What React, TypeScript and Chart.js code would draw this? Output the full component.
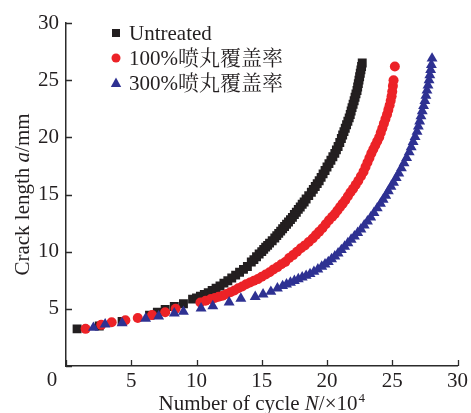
import React, { useEffect, useRef } from 'react';
import { Chart, registerables } from 'chart.js';

Chart.register(...registerables);

// Crack length a (mm) against number of cycles N (×10^4)
const untreatedN = [
  0.85, 2.55, 4.3, 6.4, 7.0, 7.6, 8.3, 9.0, 9.7, 10.0, 10.3, 10.6, 10.9, 11.2, 11.5, 11.8, 12.1, 12.4, 12.7, 13.0, 13.3, 13.6, 13.9,
  14.2, 14.4, 14.6, 14.8, 15.0, 15.15, 15.3, 15.45, 15.6, 15.8, 16.0, 16.15, 16.3, 16.45, 16.6, 16.75, 16.9, 17.05, 17.2, 17.35,
  17.5, 17.65, 17.8, 17.95, 18.1, 18.25, 18.4, 18.6, 18.8, 18.95, 19.1, 19.25, 19.4, 19.55, 19.7, 19.85, 20.0, 20.15, 20.3, 20.45,
  20.6, 20.72, 20.85, 20.98, 21.1, 21.2, 21.3, 21.4, 21.5, 21.6, 21.7, 21.78, 21.85, 21.92, 22.0, 22.08, 22.15, 22.22, 22.3, 22.35,
  22.4, 22.45, 22.5, 22.55, 22.6, 22.65, 22.7,
];
const untreatedA = [
  3.25, 3.5, 3.9, 4.45, 4.7, 4.95, 5.2, 5.45, 5.85, 5.95, 6.1, 6.25, 6.4, 6.6, 6.8, 7.0, 7.25, 7.45, 7.7, 7.95, 8.2, 8.45, 8.7,
  9.1, 9.3, 9.55, 9.8, 10.0, 10.2, 10.4, 10.55, 10.75, 10.95, 11.2, 11.4, 11.6, 11.8, 12.0, 12.2, 12.4, 12.6, 12.8, 13.0,
  13.25, 13.45, 13.7, 13.9, 14.15, 14.35, 14.6, 14.9, 15.2, 15.45, 15.7, 15.95, 16.2, 16.5, 16.8, 17.1, 17.4, 17.7, 18.0, 18.3,
  18.6, 18.9, 19.2, 19.55, 19.9, 20.2, 20.5, 20.8, 21.1, 21.4, 21.7, 22.0, 22.3, 22.6, 22.9, 23.2, 23.5, 23.8, 24.1, 24.4,
  24.7, 25.0, 25.3, 25.6, 25.9, 26.2, 26.5,
];

const peen100N = [
  1.5, 2.7, 3.5, 4.55, 5.5, 6.6, 7.6, 8.4,
  10.3, 10.7, 11.1, 11.4, 11.7, 12.0, 12.3, 12.6, 12.9, 13.2, 13.5, 13.8, 14.1, 14.4, 14.7, 15.0, 15.3, 15.6, 15.9, 16.2, 16.5,
  16.8, 17.1, 17.4, 17.7, 18.0, 18.3, 18.6, 18.9, 19.15, 19.4, 19.65, 19.9, 20.15, 20.4, 20.6, 20.8, 21.0, 21.2, 21.4, 21.6, 21.8,
  22.0, 22.2, 22.4, 22.6, 22.8, 22.95, 23.1, 23.25, 23.4, 23.55, 23.7, 23.85, 24.0, 24.12, 24.24, 24.36, 24.48, 24.6, 24.7, 24.8,
  24.88, 24.95, 25.0, 25.05, 25.1, 25.2,
];
const peen100A = [
  3.25, 3.6, 3.83, 4.0, 4.2, 4.45, 4.7, 5.0,
  5.55, 5.7, 5.85, 5.95, 6.05, 6.15, 6.3, 6.45, 6.6, 6.8, 6.95, 7.15, 7.3, 7.45, 7.6, 7.8, 8.0, 8.2, 8.45, 8.65, 8.9,
  9.1, 9.45, 9.7, 10.0, 10.3, 10.55, 10.85, 11.15, 11.45, 11.75, 12.05, 12.4, 12.75, 13.05, 13.3, 13.6, 13.9, 14.2, 14.5, 14.85, 15.2,
  15.5, 15.85, 16.2, 16.6, 17.0, 17.4, 17.8, 18.2, 18.6, 18.95, 19.3, 19.65, 20.0, 20.4, 20.8, 21.2, 21.6, 22.0, 22.4, 22.8,
  23.2, 23.6, 24.0, 24.5, 25.0, 26.2,
];

const peen300N = [
  2.1, 3.0, 4.3, 6.1, 7.1, 8.3, 9.0, 10.35, 11.25, 12.5, 13.4, 14.5, 15.1, 15.7, 16.2,
  16.6, 16.9, 17.2, 17.5, 17.8, 18.1, 18.4, 18.7, 19.0, 19.3, 19.6, 19.85, 20.1, 20.35, 20.6, 20.85, 21.1, 21.35, 21.6, 21.85,
  22.1, 22.35, 22.6, 22.85, 23.1, 23.35, 23.6, 23.85, 24.1, 24.3, 24.5, 24.7, 24.9, 25.1, 25.3, 25.5, 25.7, 25.9, 26.1, 26.3,
  26.45, 26.6, 26.75, 26.9, 27.0, 27.1, 27.2, 27.3, 27.4, 27.5, 27.58, 27.66, 27.74, 27.82, 27.88, 27.94, 28.0, 28.05,
];
const peen300A = [
  3.35, 3.65, 3.75, 4.15, 4.35, 4.6, 4.75, 5.05, 5.25, 5.57, 5.9, 6.05, 6.27, 6.5, 6.8,
  7.0, 7.15, 7.3, 7.45, 7.6, 7.75, 7.9, 8.05, 8.25, 8.45, 8.7, 8.9, 9.1, 9.35, 9.6, 9.85, 10.15, 10.45, 10.75, 11.05,
  11.35, 11.65, 11.95, 12.3, 12.65, 13.0, 13.4, 13.8, 14.2, 14.55, 14.9, 15.3, 15.7, 16.05, 16.45, 16.85, 17.3, 17.75, 18.2, 18.7,
  19.15, 19.6, 20.05, 20.5, 20.95, 21.4, 21.85, 22.3, 22.75, 23.2, 23.65, 24.1, 24.55, 25.0, 25.45, 25.9, 26.35, 26.9,
];

const seriesLabels = ['Untreated', '100%喷丸覆盖率', '300%喷丸覆盖率'];
const xTickValues = [0, 5, 10, 15, 20, 25, 30];
const yTickValues = [0, 5, 10, 15, 20, 25, 30];

const BLACK = '#231F20';
const RED = '#EC2227';
const BLUE = '#2E3192';
const AXIS = '#2b2b2b';
const SERIF = "'Liberation Serif', 'Times New Roman', 'Noto Serif CJK SC', 'Noto Sans CJK SC', serif";
const FONT_SIZE = 21;

const toPoints = (xs: number[], ys: number[]) => xs.map((x, i) => ({ x, y: ys[i] }));

type Seg = { t: string; italic?: boolean; sup?: boolean };

function drawRich(ctx: CanvasRenderingContext2D, segs: Seg[], cx: number, baseline: number) {
  const fontFor = (s: Seg) =>
    `${s.italic ? 'italic ' : ''}${s.sup ? Math.round(FONT_SIZE * 0.62) : FONT_SIZE}px ${SERIF}`;
  let total = 0;
  for (const s of segs) {
    ctx.font = fontFor(s);
    total += ctx.measureText(s.t).width + (s.sup ? 1 : 0);
  }
  let x = cx - total / 2;
  ctx.textAlign = 'left';
  ctx.textBaseline = 'alphabetic';
  for (const s of segs) {
    ctx.font = fontFor(s);
    const dx = s.sup ? 1 : 0;
    ctx.fillText(s.t, x + dx, s.sup ? baseline - FONT_SIZE * 0.38 : baseline);
    x += ctx.measureText(s.t).width + dx;
  }
}

const decorations = {
  id: 'decorations',
  afterDraw(chart: any) {
    const { ctx, chartArea, scales } = chart;
    const xs = scales.x;
    const ys = scales.y;
    const { left, right, top, bottom } = chartArea;
    ctx.save();

    // inward tick marks
    ctx.strokeStyle = AXIS;
    ctx.lineWidth = 1.3;
    ctx.beginPath();
    for (const v of xTickValues) {
      const px = Math.round(xs.getPixelForValue(v)) + 0.5;
      ctx.moveTo(px, bottom);
      ctx.lineTo(px, bottom - 6);
    }
    for (const v of yTickValues) {
      const py = Math.round(ys.getPixelForValue(v)) + 0.5;
      ctx.moveTo(left, py);
      ctx.lineTo(left + 6, py);
    }
    ctx.stroke();

    ctx.fillStyle = BLACK;
    // shared origin label
    ctx.font = `${FONT_SIZE}px ${SERIF}`;
    ctx.textAlign = 'center';
    ctx.textBaseline = 'middle';
    ctx.fillText('0', left - 14, bottom + 14);

    // x axis title
    drawRich(
      ctx,
      [{ t: 'Number of cycle ' }, { t: 'N', italic: true }, { t: '/×10' }, { t: '4', sup: true }],
      (left + right) / 2,
      410
    );

    // y axis title
    ctx.save();
    ctx.translate(29, (top + bottom) / 2);
    ctx.rotate(-Math.PI / 2);
    drawRich(ctx, [{ t: 'Crack length ' }, { t: 'a', italic: true }, { t: '/mm' }], 0, 0);
    ctx.restore();

    // legend
    const mx = 116;
    const rows = [33, 58, 83];
    ctx.fillStyle = BLACK;
    ctx.fillRect(mx - 4, rows[0] - 4, 8, 8);
    ctx.fillStyle = RED;
    ctx.beginPath();
    ctx.arc(mx, rows[1], 4.5, 0, Math.PI * 2);
    ctx.fill();
    ctx.fillStyle = BLUE;
    ctx.beginPath();
    ctx.moveTo(mx, rows[2] - 5.5);
    ctx.lineTo(mx + 5.2, rows[2] + 4);
    ctx.lineTo(mx - 5.2, rows[2] + 4);
    ctx.closePath();
    ctx.fill();

    ctx.fillStyle = BLACK;
    ctx.font = `${FONT_SIZE}px ${SERIF}`;
    ctx.textAlign = 'left';
    ctx.textBaseline = 'alphabetic';
    seriesLabels.forEach((label, i) => ctx.fillText(label, 129, rows[i] + 7));

    ctx.restore();
  },
};

export default function App() {
  const canvasRef = useRef<HTMLCanvasElement>(null);

  useEffect(() => {
    const canvas = canvasRef.current;
    if (!canvas) return;
    const chart = new Chart(canvas, {
      type: 'scatter',
      data: {
        datasets: [
          {
            label: seriesLabels[0],
            data: toPoints(untreatedN, untreatedA),
            pointStyle: 'rect',
            pointRadius: 6.3,
            backgroundColor: BLACK,
            borderWidth: 0,
            order: 3,
          },
          {
            label: seriesLabels[1],
            data: toPoints(peen100N, peen100A),
            pointStyle: 'circle',
            pointRadius: 5,
            backgroundColor: RED,
            borderWidth: 0,
            order: 2,
          },
          {
            label: seriesLabels[2],
            data: toPoints(peen300N, peen300A),
            pointStyle: 'triangle',
            pointRadius: 6.3,
            backgroundColor: BLUE,
            borderWidth: 0,
            order: 1,
          },
        ],
      },
      options: {
        responsive: false,
        animation: false,
        events: [],
        layout: { padding: { top: 23, right: 12, left: 0, bottom: 0 } },
        plugins: {
          legend: { display: false },
          tooltip: { enabled: false },
          title: { display: false },
        },
        scales: {
          x: {
            type: 'linear',
            min: 0,
            max: 30,
            ticks: {
              stepSize: 5,
              padding: 3,
              color: BLACK,
              font: { family: SERIF, size: FONT_SIZE },
              callback: (v: any) => (v === 0 ? '' : String(v)),
            },
            grid: { display: true, drawOnChartArea: false, drawTicks: false },
            border: { display: true, color: AXIS, width: 1.5 },
            afterFit: (scale: any) => {
              scale.height = 47;
            },
          },
          y: {
            type: 'linear',
            min: 0,
            max: 30,
            ticks: {
              stepSize: 5,
              padding: 7,
              color: BLACK,
              font: { family: SERIF, size: FONT_SIZE },
              callback: (v: any) => (v === 0 ? '' : String(v)),
            },
            grid: { display: true, drawOnChartArea: false, drawTicks: false },
            border: { display: true, color: AXIS, width: 1.5 },
            afterFit: (scale: any) => {
              scale.width = 66;
            },
          },
        },
      },
      plugins: [decorations],
    });
    return () => chart.destroy();
  }, []);

  return (
    <div style={{ position: 'fixed', left: 0, top: 0, width: 471, height: 413, background: '#fff' }}>
      <canvas ref={canvasRef} width={471} height={413} style={{ display: 'block' }} />
    </div>
  );
}
